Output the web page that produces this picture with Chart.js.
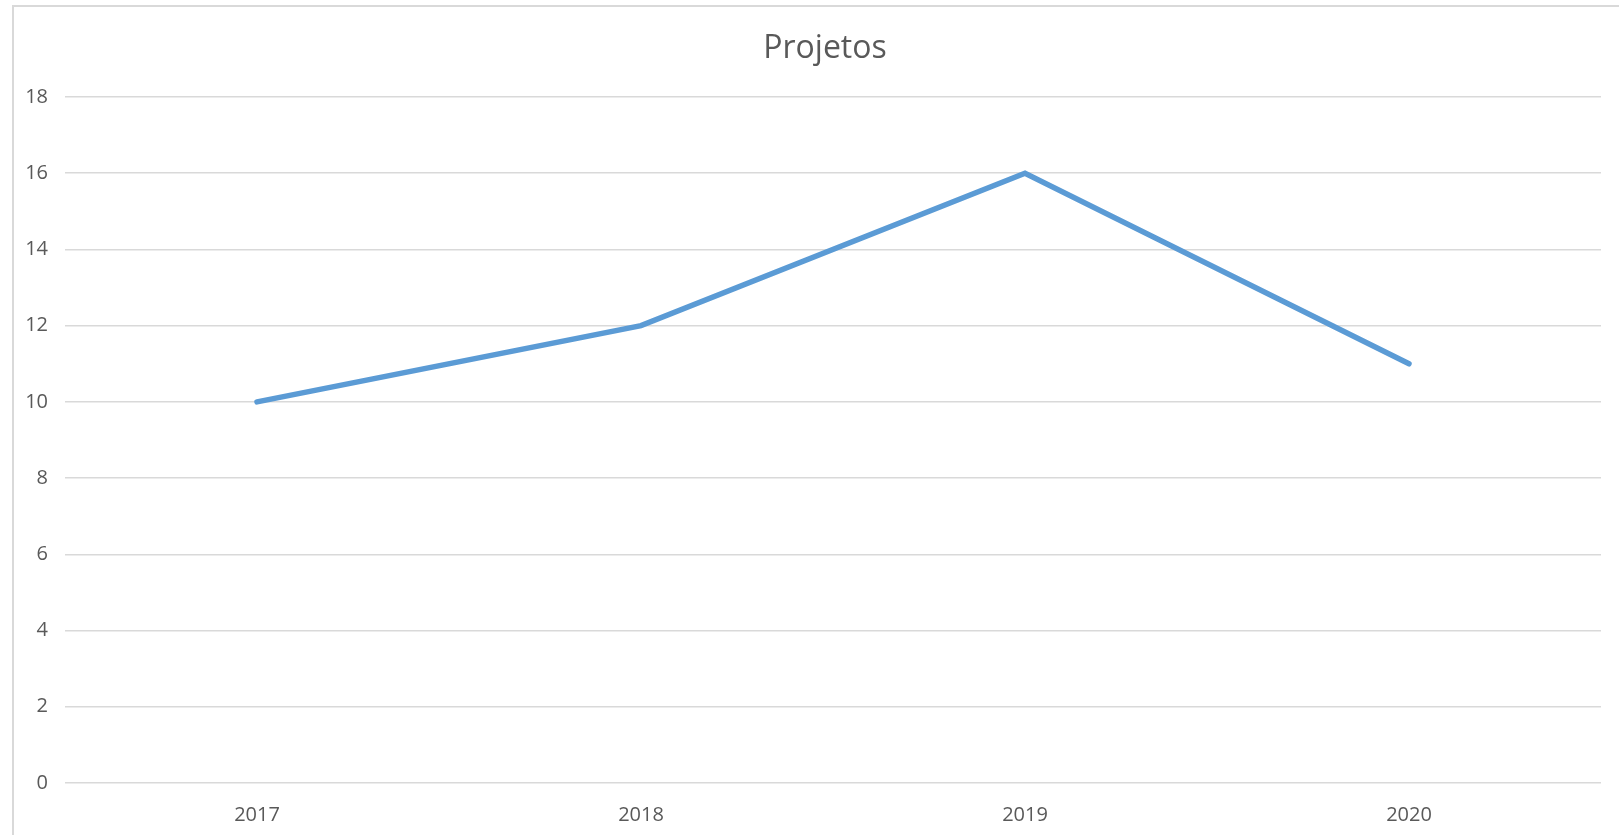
<!DOCTYPE html>
<html>
<head>
<meta charset="utf-8">
<script src="https://cdn.jsdelivr.net/npm/chart.js@4"></script>
<style>
  html, body { margin: 0; padding: 0; background: #fff; overflow: hidden; }
  #wrap { position: relative; width: 1619px; height: 835px; }
  #frame {
    position: absolute; left: 12px; top: 5px; width: 1620px; height: 850px;
    border: 2px solid #d9d9d9; box-sizing: border-box; pointer-events: none;
  }
  canvas { position: absolute; left: 0; top: 0; }
</style>
</head>
<body>
<div id="wrap">
  <canvas id="chart" width="1619" height="835"></canvas>
  <div id="frame"></div>
</div>
<script>
// Chart data
const chartTitle = 'Projetos';
const years = ['2017', '2018', '2019', '2020'];
const projetos = [10, 12, 16, 11];
const yTicks = [0, 2, 4, 6, 8, 10, 12, 14, 16, 18];

const textColor = '#595959';
const gridColor = '#d9d9d9';

// Title centred on the chart frame (not on the plot), like the original
const frameTitle = {
  id: 'frameTitle',
  afterDraw(chart) {
    const ctx = chart.ctx;
    ctx.save();
    ctx.font = '32px "Open Sans", sans-serif';
    ctx.fillStyle = textColor;
    ctx.textAlign = 'center';
    ctx.textBaseline = 'middle';
    ctx.fillText(chartTitle, 825, 49);
    ctx.restore();
  }
};

new Chart(document.getElementById('chart'), {
  type: 'line',
  data: {
    labels: years,
    datasets: [{
      label: chartTitle,
      data: projetos,
      borderColor: '#5b9bd5',
      borderWidth: 5.5,
      borderCapStyle: 'round',
      borderJoinStyle: 'miter',
      pointRadius: 0,
      tension: 0,
      fill: false
    }]
  },
  options: {
    responsive: false,
    animation: false,
    layout: { padding: { left: 0, right: 18, top: 97, bottom: 0 } },
    plugins: {
      legend: { display: false },
      tooltip: { enabled: false },
      title: { display: false }
    },
    scales: {
      x: {
        offset: true,
        grid: { display: false, drawTicks: false },
        border: { display: false },
        ticks: {
          color: textColor,
          font: { family: '"Open Sans", sans-serif', size: 20 },
          padding: 20,
          maxRotation: 0
        },
        afterFit: (scale) => { scale.height = 52; }
      },
      y: {
        min: yTicks[0],
        max: yTicks[yTicks.length - 1],
        afterBuildTicks: (scale) => { scale.ticks = yTicks.map(v => ({ value: v })); },
        grid: { color: gridColor, lineWidth: 1.5, drawTicks: false },
        border: { display: false },
        ticks: {
          color: textColor,
          font: { family: '"Open Sans", sans-serif', size: 20 },
          padding: 17
        },
        afterFit: (scale) => { scale.width = 65; }
      }
    }
  },
  plugins: [frameTitle]
});
</script>
</body>
</html>
